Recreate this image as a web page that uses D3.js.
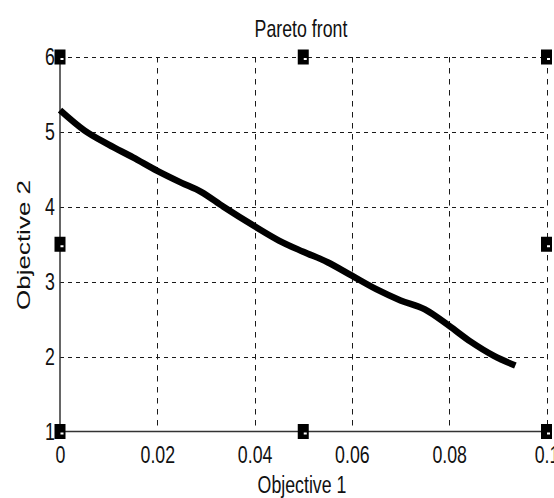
<!DOCTYPE html>
<html>
<head>
<meta charset="utf-8">
<script src="https://cdn.jsdelivr.net/npm/d3@7"></script>
<style>
html,body{margin:0;padding:0;background:#fff;}
svg{display:block;}
text{font-family:"Liberation Sans",Arial,Helvetica,sans-serif;fill:#111;}
</style>
</head>
<body>
<svg id="chart" width="554" height="498"></svg>
<script>
// ---- data ----
const objective1 = [0, 0.005, 0.010, 0.015, 0.020, 0.025, 0.029, 0.0336, 0.040, 0.045, 0.050, 0.055, 0.060, 0.065, 0.070, 0.075, 0.080, 0.0844, 0.0892, 0.0936];
const objective2 = [5.29, 5.02, 4.83, 4.66, 4.48, 4.32, 4.20, 4.00, 3.74, 3.55, 3.40, 3.26, 3.08, 2.90, 2.75, 2.63, 2.41, 2.20, 2.01, 1.88];
const xTicks = [0, 0.02, 0.04, 0.06, 0.08, 0.1];
const xTickLabels = ["0", "0.02", "0.04", "0.06", "0.08", "0.1"];
const yTicks = [1, 2, 3, 4, 5, 6];
const yTickLabels = ["1", "2", "3", "4", "5", "6"];
const handleX = [0, 0.05, 0.1];
const handleY = [1, 3.5, 6];
const titleText = "Pareto front";
const xLabel = "Objective 1";
const yLabel = "Objective 2";

// ---- layout ----
const svg = d3.select("#chart");
const x = d3.scaleLinear().domain([0, 0.1]).range([60, 546.5]);
const y = d3.scaleLinear().domain([1, 6]).range([431.5, 57]);
const SX = 0.74;

// grid
const grid = svg.append("g").attr("stroke", "#1a1a1a").attr("stroke-width", 1).attr("fill", "none");
grid.selectAll("line.v").data(xTicks.filter(d => d > 0)).join("line")
  .attr("x1", d => Math.round(x(d)) + 0.5).attr("x2", d => Math.round(x(d)) + 0.5)
  .attr("y1", y(6)).attr("y2", y(1))
  .attr("stroke-dasharray", "5.5,5.5");
grid.selectAll("line.h").data(yTicks.filter(d => d > 1)).join("line")
  .attr("y1", d => Math.round(y(d)) + 0.5).attr("y2", d => Math.round(y(d)) + 0.5)
  .attr("x1", x(0)).attr("x2", x(0.1))
  .attr("stroke-dasharray", "4,4");

// axes
const xAxis = d3.axisBottom(x).tickValues(xTicks).tickSize(0).tickPadding(14)
  .tickFormat((d, i) => xTickLabels[i]);
const gx = svg.append("g").attr("transform", `translate(0,${y(1)})`).call(xAxis);
gx.select(".domain").remove();
gx.selectAll("text").attr("font-size", 24).attr("fill", "#111")
  .attr("font-family", '"Liberation Sans",Arial,sans-serif')
  .attr("transform", `scale(${SX},1)`);

const yAxis = d3.axisLeft(y).tickValues(yTicks).tickSize(0).tickPadding(7)
  .tickFormat((d, i) => yTickLabels[i]);
const gy = svg.append("g").attr("transform", `translate(${x(0)},0)`).call(yAxis);
gy.select(".domain").remove();
gy.selectAll("text").attr("font-size", 24).attr("fill", "#111")
  .attr("font-family", '"Liberation Sans",Arial,sans-serif')
  .attr("transform", `scale(${SX},1)`);

// solid axis lines (left & bottom)
svg.append("line").attr("x1", x(0)).attr("x2", x(0)).attr("y1", y(6)).attr("y2", y(1))
  .attr("stroke", "#333").attr("stroke-width", 1.5);
svg.append("line").attr("x1", x(0)).attr("x2", x(0.1)).attr("y1", y(1)).attr("y2", y(1))
  .attr("stroke", "#333").attr("stroke-width", 1.5);

// curve
const pts = objective1.map((v, i) => [v, objective2[i]]);
svg.append("path").datum(pts)
  .attr("fill", "none").attr("stroke", "#000").attr("stroke-width", 6.5)
  .attr("stroke-linejoin", "round").attr("stroke-linecap", "butt")
  .attr("d", d3.line().x(d => x(d[0])).y(d => y(d[1])).curve(d3.curveMonotoneX));

// selection handles
const handles = [];
handleX.forEach(hx => handleY.forEach(hy => {
  if (!(hx === 0.05 && hy === 3.5)) handles.push([hx, hy]);
}));
const hg = svg.append("g");
hg.selectAll("rect.h").data(handles).join("rect")
  .attr("x", d => x(d[0]) - 5.5).attr("y", d => y(d[1]) - 7.5)
  .attr("width", 11).attr("height", 15).attr("fill", "#000");
hg.selectAll("rect.w").data(handles).join("rect")
  .attr("x", d => x(d[0]) + 0.5).attr("y", d => y(d[1]) + 1)
  .attr("width", 3).attr("height", 2).attr("fill", "#fff");

// title & labels
svg.append("text").attr("transform", `translate(301,36.5) scale(${SX},1)`)
  .attr("text-anchor", "middle").attr("font-size", 24).text(titleText);
svg.append("text").attr("transform", `translate(302,493) scale(${SX},1)`)
  .attr("text-anchor", "middle").attr("font-size", 24).text(xLabel);
svg.append("text").attr("transform", `translate(30,245) scale(${SX},1) rotate(-90)`)
  .attr("text-anchor", "middle").attr("font-size", 26).text(yLabel);
</script>
</body>
</html>
